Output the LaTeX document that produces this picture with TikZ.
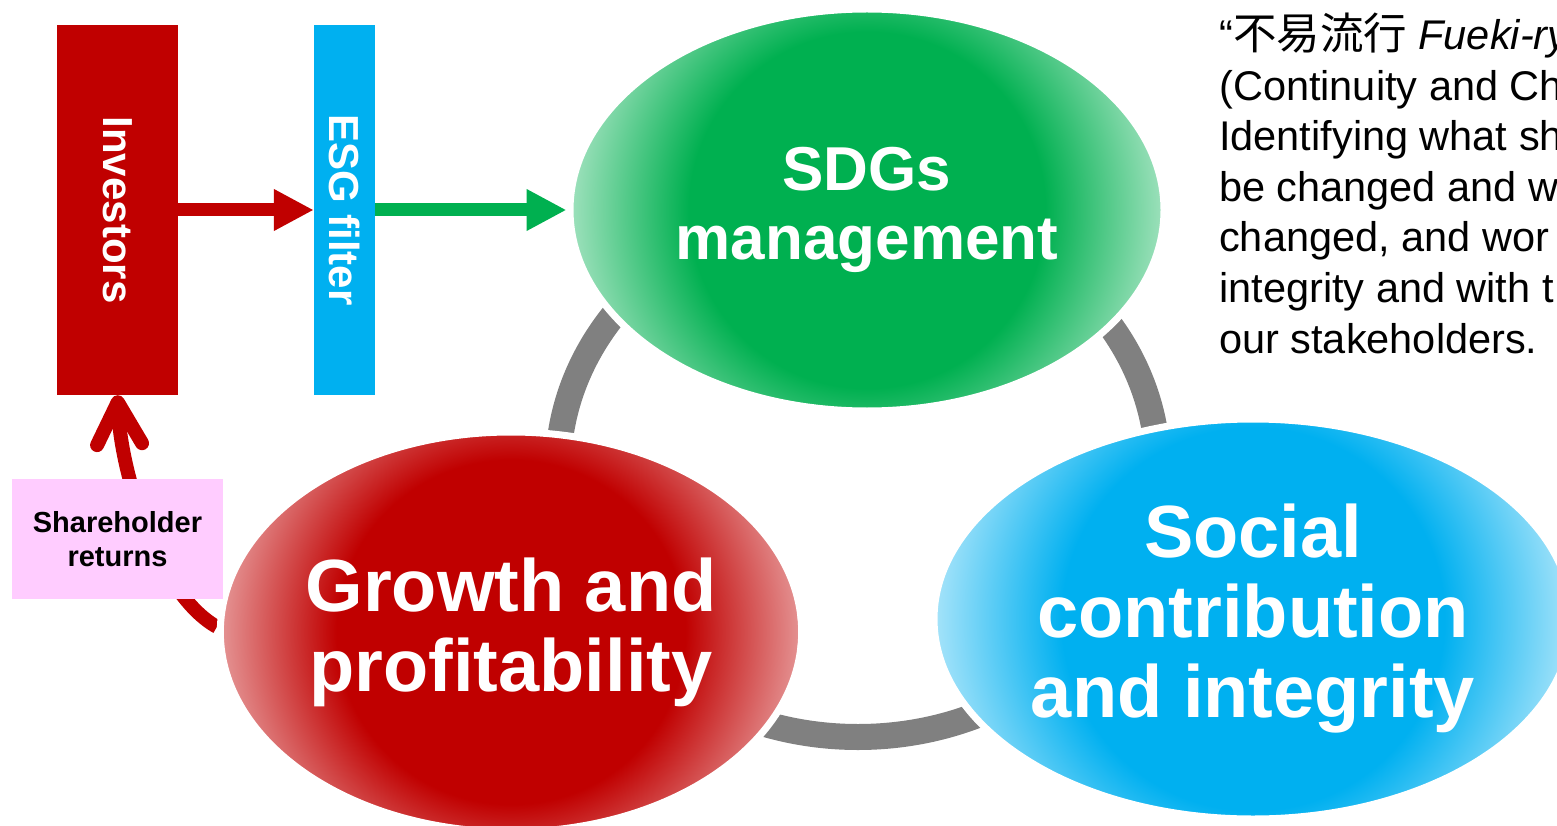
\documentclass[tikz,border=0pt]{standalone}
\usepackage{fontspec}
\setmainfont{Liberation Sans}
\newfontfamily\cjkfont{Noto Sans CJK JP}
\usetikzlibrary{shapes.geometric,arrows.meta,backgrounds}

\definecolor{brandRed}{HTML}{C00000}
\definecolor{brandGreen}{HTML}{00B050}
\definecolor{brandBlue}{HTML}{00B0F0}
\definecolor{boxPink}{HTML}{FFCCFF}
\definecolor{ringGray}{HTML}{808080}
\colorlet{brandRedSoft}{brandRed!42}
\colorlet{brandGreenSoft}{brandGreen!38}
\colorlet{brandBlueSoft}{brandBlue!35}

% solid core fading towards a pale rim
\pgfdeclareradialshading{softred}{\pgfpoint{0bp}{0bp}}{color(0bp)=(brandRed); color(15bp)=(brandRed); color(25bp)=(brandRedSoft); color(50bp)=(brandRedSoft)}
\pgfdeclareradialshading{softgreen}{\pgfpoint{0bp}{0bp}}{color(0bp)=(brandGreen); color(15bp)=(brandGreen); color(25bp)=(brandGreenSoft); color(50bp)=(brandGreenSoft)}
\pgfdeclareradialshading{softblue}{\pgfpoint{0bp}{0bp}}{color(0bp)=(brandBlue); color(15bp)=(brandBlue); color(25bp)=(brandBlueSoft); color(50bp)=(brandBlueSoft)}

\begin{document}
\begin{tikzpicture}[x=1pt,y=-1pt,
  bubble/.style n args={2}{ellipse, inner sep=0pt, align=center, text=white,
    draw=white, line width=7pt,
    path picture={\shade[shading=#1] (path picture bounding box.center) circle[radius=#2pt];}},
  bar/.style={inner sep=0pt, minimum height=370pt},
  barlabel/.style={rotate=-90, text=white, inner sep=0pt, font=\bfseries\fontsize{42}{42}\selectfont},
  blockarrow/.style={line width=13pt, -{Triangle[length=40pt,width=39pt]}},
  notetext/.style={anchor=base west, inner sep=0pt, font=\fontsize{41.5}{50}\selectfont}
]
\useasboundingbox (0,0) rectangle (1557,826);

% grey ring linking the three themes
\draw[ringGray, line width=26pt] (858,470) ellipse [x radius=300, y radius=267];

% the three themes
\node[bubble={softgreen}{297}, minimum width=594pt, minimum height=402pt,
      font=\bfseries\fontsize{62}{68}\selectfont] (sdg) at (867,210) {SDGs\\[1pt]management};
\node[bubble={softred}{287}, minimum width=574pt, minimum height=400pt,
      font=\bfseries\fontsize{74}{80}\selectfont] (grow) at (511,632) {Growth and\\profitability};
\node[bubble={softblue}{319}, minimum width=638pt, minimum height=400pt,
      font=\bfseries\fontsize{74}{80}\selectfont] (soc) at (1253,619) {Social\\contribution\\and integrity};

% investors and the ESG filter
\node[bar, fill=brandRed, minimum width=121pt] (inv) at (117.5,210) {};
\node[barlabel] (invtext) at (inv.center) {Investors};
\node[bar, fill=brandBlue, minimum width=61pt] (esg) at (344.5,210) {};
\node[barlabel] (esgtext) at (esg.center) {ESG filter};

\draw[blockarrow, brandRed] (inv.east) -- (esg.west);
\draw[blockarrow, brandGreen] (esg.east) -- (sdg.west);

% shareholder returns flowing back to the investors
\begin{scope}[on background layer]
\draw[brandRed, line width=14pt, -{Straight Barb[length=42pt,width=45pt,round]}]
  (grow.179) .. controls (160,595) and (121,478) .. (inv.south);
\end{scope}
\node[fill=boxPink, minimum width=211pt, minimum height=120pt, inner sep=0pt,
      align=center, font=\bfseries\fontsize{29}{34}\selectfont] (ret) at (117.5,539)
  {Shareholder\\returns};

% motto
\node[notetext] (q1) at (1219,50) {“{\cjkfont\fontsize{43.5}{50}\selectfont 不易流行} \textit{Fueki-ry}};
\node[notetext] (q2) at (1219,100.5) {(Continuity and Ch};
\node[notetext] (q3) at (1219,151) {Identifying what sh};
\node[notetext] (q4) at (1219,201.5) {be changed and w};
\node[notetext] (q5) at (1219,252) {changed, and wor};
\node[notetext] (q6) at (1219,302.5) {integrity and with t};
\node[notetext] (q7) at (1219,353) {our stakeholders.};
\end{tikzpicture}
\end{document}
